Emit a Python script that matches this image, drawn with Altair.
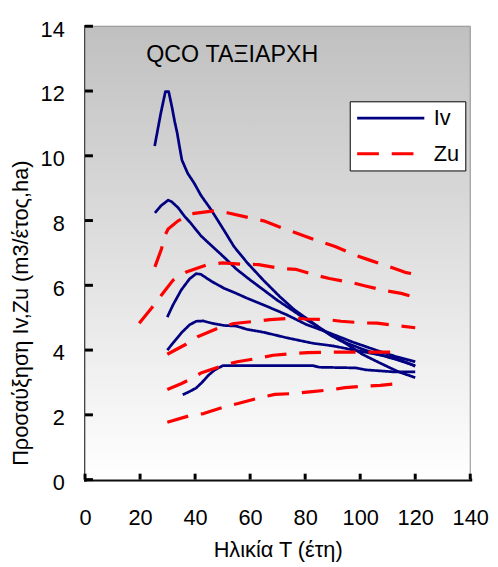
import altair as alt
import pandas as pd

# ---------------- data ----------------
x_ticks = [0, 20, 40, 60, 80, 100, 120, 140]
y_ticks = [0, 2, 4, 6, 8, 10, 12, 14]

# Iv curves (solid navy)
iv1_x = [25.3, 27.5, 29.2, 30.4, 31.6, 32.6, 33.5, 34.4, 35.2, 37.3, 39.7, 42.1, 45.7, 50.5, 54.1, 58.9, 64.9, 70.8, 76.0, 82.8, 88.8, 94.8, 100.8, 106.7, 113.9, 120.0]
iv1_y = [10.3, 11.3, 11.98, 11.98, 11.5, 11.05, 10.7, 10.25, 9.87, 9.46, 9.15, 8.78, 8.35, 7.7, 7.2, 6.7, 6.15, 5.65, 5.25, 4.84, 4.48, 4.2, 3.87, 3.62, 3.33, 3.15]

iv2_x = [25.4, 27.5, 30.2, 31.5, 33.8, 36.0, 38.6, 42.1, 45.0, 50.5, 55.0, 60.1, 65.0, 69.7, 75.0, 80.4, 85.0, 90.0, 95.0, 100.8, 106.0, 112.7, 120.0]
iv2_y = [8.24, 8.45, 8.63, 8.58, 8.40, 8.15, 7.9, 7.53, 7.3, 6.87, 6.5, 6.16, 5.85, 5.55, 5.25, 4.94, 4.7, 4.43, 4.22, 4.03, 3.88, 3.72, 3.52]

iv3_x = [29.9, 32.0, 35.0, 38.0, 40.4, 42.1, 46.0, 50.5, 55.0, 58.9, 66.1, 73.3, 80.4, 88.8, 97.2, 106.7, 113.0, 120.0]
iv3_y = [5.02, 5.4, 5.86, 6.2, 6.36, 6.34, 6.12, 5.91, 5.75, 5.6, 5.35, 5.09, 4.79, 4.53, 4.25, 3.97, 3.8, 3.64]

iv4_x = [29.9, 32.0, 35.0, 38.0, 40.4, 43.0, 46.0, 50.5, 55.0, 58.9, 64.9, 73.3, 82.8, 90.0, 99.6, 109.2, 115.0, 120.0]
iv4_y = [4.0, 4.22, 4.53, 4.78, 4.89, 4.9, 4.83, 4.76, 4.74, 4.64, 4.55, 4.38, 4.21, 4.13, 3.97, 3.82, 3.68, 3.5]

iv5_x = [35.5, 38.0, 40.4, 42.5, 44.7, 47.0, 50.1, 70.8, 82.8, 85.2, 98.4, 102.0, 111.6, 120.0]
iv5_y = [2.62, 2.72, 2.83, 3.0, 3.21, 3.38, 3.52, 3.52, 3.52, 3.47, 3.45, 3.39, 3.33, 3.33]

# Zu curves (dashed red)
zu1_x = [25.4, 27.8, 29.0, 30.2, 33.8, 38.5, 46.9, 51.7, 59.5, 64.9, 72.6, 78.0, 85.4, 90.9, 98.6, 103.7, 111.7, 116.3, 120.0]
zu1_y = [6.57, 7.13, 7.53, 7.74, 7.99, 8.21, 8.30, 8.24, 8.09, 7.99, 7.74, 7.58, 7.35, 7.20, 6.92, 6.77, 6.54, 6.40, 6.34]

zu2_x = [19.7, 24.2, 27.8, 32.0, 36.8, 44.5, 50.0, 57.7, 63.1, 70.9, 76.8, 84.0, 88.8, 97.2, 101.9, 109.4, 114.9, 120.0]
zu2_y = [4.83, 5.30, 5.70, 6.16, 6.41, 6.64, 6.69, 6.65, 6.64, 6.52, 6.49, 6.31, 6.21, 6.08, 5.98, 5.83, 5.75, 5.63]

zu3_x = [29.9, 36.7, 40.9, 48.7, 54.1, 61.9, 67.2, 75.6, 80.0, 88.2, 93.0, 100.8, 106.1, 113.9, 120.0]
zu3_y = [3.87, 4.18, 4.41, 4.69, 4.82, 4.89, 4.94, 4.99, 4.96, 4.94, 4.89, 4.84, 4.83, 4.75, 4.69]

zu4_x = [29.9, 34.9, 37.3, 42.1, 49.9, 55.3, 63.1, 68.4, 76.2, 81.0, 88.8, 100.0, 115.5]
zu4_y = [2.78, 2.96, 3.06, 3.29, 3.52, 3.64, 3.75, 3.84, 3.90, 3.92, 3.94, 3.94, 3.94]

zu5_x = [29.9, 37.9, 43.1, 50.7, 55.6, 63.6, 69.0, 76.2, 81.6, 90.0, 94.5, 102.5, 107.3, 115.7]
zu5_y = [1.77, 1.97, 2.04, 2.25, 2.35, 2.53, 2.63, 2.66, 2.71, 2.78, 2.84, 2.89, 2.91, 2.99]

series = [
    ("Iv1", "Iv", iv1_x, iv1_y), ("Iv2", "Iv", iv2_x, iv2_y), ("Iv3", "Iv", iv3_x, iv3_y),
    ("Iv4", "Iv", iv4_x, iv4_y), ("Iv5", "Iv", iv5_x, iv5_y),
    ("Zu1", "Zu", zu1_x, zu1_y), ("Zu2", "Zu", zu2_x, zu2_y), ("Zu3", "Zu", zu3_x, zu3_y),
    ("Zu4", "Zu", zu4_x, zu4_y), ("Zu5", "Zu", zu5_x, zu5_y),
]
rows = []
for name, kind, xs_, ys_ in series:
    for a, b in zip(xs_, ys_):
        rows.append({"curve": name, "type": kind, "x": a, "y": b})
df = pd.DataFrame(rows)

# ---------------- chart ----------------
W, H = 390, 459
FONT = "Liberation Sans"
X_TITLE = "Ηλικία Τ (έτη)"
Y_TITLE = "Προσαύξηση Ιv,Zu (m3/έτος,ha)"

xs = alt.Scale(domain=[0, 140], nice=False, zero=False)
ys = alt.Scale(domain=[0, 14], nice=False, zero=False)
xaxis = alt.Axis(values=x_ticks)
yaxis = alt.Axis(values=y_ticks)

def X(field="x"):
    return alt.X(f"{field}:Q", scale=xs, title=X_TITLE, axis=xaxis)

def Y(field="y"):
    return alt.Y(f"{field}:Q", scale=ys, title=Y_TITLE, axis=yaxis)

bg_df = pd.DataFrame({"x": [x_ticks[0]], "x2": [x_ticks[-1]], "y": [y_ticks[0]], "y2": [y_ticks[-1]]})
grad = alt.Gradient(
    gradient="linear",
    stops=[alt.GradientStop(color="#c0c0c0", offset=0), alt.GradientStop(color="#ffffff", offset=1)],
    x1=0, x2=0, y1=0, y2=1,
)
bg = alt.Chart(bg_df).mark_rect(color=grad, stroke="#8c8c8c", strokeWidth=1).encode(
    x=X(), x2="x2:Q", y=Y(), y2="y2:Q"
)

yt = alt.Chart(pd.DataFrame({"y": y_ticks})).mark_rule(color="black", strokeWidth=3).encode(
    y=Y(), x=alt.value(0), x2=alt.value(8)
)
xt = alt.Chart(pd.DataFrame({"x": x_ticks})).mark_rule(color="black", strokeWidth=3).encode(
    x=X(), y=alt.value(H), y2=alt.value(H - 6)
)

color_scale = alt.Scale(domain=["Iv", "Zu"], range=["#000080", "#ff0000"])
dash_scale = alt.Scale(domain=["Iv", "Zu"], range=[[1, 0], [22, 13]])
legend = alt.Legend(
    title=None, orient="none", legendX=268, legendY=76,
    fillColor="white", strokeColor="black", padding=6,
    symbolType="stroke", symbolSize=4624, symbolStrokeWidth=3,
    clipHeight=22, rowPadding=14,
    labelFont=FONT, labelFontSize=22, labelColor="black", labelOffset=8,
)

def lines(kind, width):
    return alt.Chart(df).transform_filter(alt.datum.type == kind).mark_line(
        strokeWidth=width, strokeJoin="round"
    ).encode(
        x=X(), y=Y(), detail="curve:N",
        color=alt.Color("type:N", scale=color_scale, legend=legend),
        strokeDash=alt.StrokeDash("type:N", scale=dash_scale, legend=legend),
    )

iv = lines("Iv", 2.75)
zu = lines("Zu", 3.25)

ttl = alt.Chart(pd.DataFrame({"t": ["QCO ΤΑΞΙΑΡΧΗ"]})).mark_text(
    align="left", baseline="middle", fontSize=23.5, font=FONT, color="black"
).encode(text="t:N", x=alt.value(62), y=alt.value(29))

chart = (
    alt.layer(bg, xt, yt, iv, zu, ttl)
    .properties(
        width=W, height=H,
        autosize=alt.AutoSizeParams(type="none"),
        padding={"left": 78, "top": 15, "right": 20, "bottom": 85},
    )
    .configure_view(stroke=None)
    .configure_axis(
        domainColor="black", domainWidth=3, domainCap="square",
        ticks=False, tickSize=0, grid=False, labelFlush=False,
        labelFont=FONT, labelFontSize=22, labelColor="black",
        titleFont=FONT, titleFontSize=22, titleFontWeight="normal", titleColor="black",
        zindex=1,
    )
    .configure_axisX(labelPadding=28, titlePadding=12)
    .configure_axisY(labelPadding=21, labelOffset=3, titleX=-53, titleY=290, titlePadding=7.5)
)

chart.save("out.html", embed_options={"renderer": "svg", "actions": False})
